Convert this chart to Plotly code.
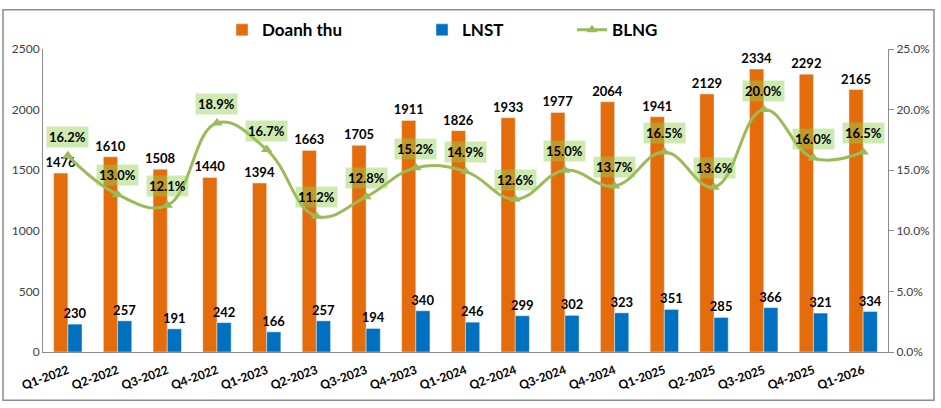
import plotly.graph_objects as go

categories = ["Q1-2022", "Q2-2022", "Q3-2022", "Q4-2022", "Q1-2023", "Q2-2023", "Q3-2023",
              "Q4-2023", "Q1-2024", "Q2-2024", "Q3-2024", "Q4-2024", "Q1-2025", "Q2-2025",
              "Q3-2025", "Q4-2025", "Q1-2026"]
doanh_thu = [1476, 1610, 1508, 1440, 1394, 1663, 1705, 1911, 1826, 1933, 1977, 2064, 1941, 2129, 2334, 2292, 2165]
lnst = [230, 257, 191, 242, 166, 257, 194, 340, 246, 299, 302, 323, 351, 285, 366, 321, 334]
blng = [0.162, 0.130, 0.121, 0.189, 0.167, 0.112, 0.128, 0.152, 0.149, 0.126, 0.150, 0.137, 0.165, 0.136, 0.200, 0.160, 0.165]

ORANGE = "#E46C0A"
BLUE = "#0070C0"
GREEN = "#9BBB59"
FONT = "Lato"

W, H = 941, 408
ML, MR, MT, MB = 43, 53, 44, 56
PW, PH = W - ML - MR, H - MT - MB


def px_x(p):
    return (p - ML) / PW


def px_y(p):
    return (H - MB - p) / PH


fig = go.Figure()
fig.add_trace(go.Bar(
    x=categories, y=doanh_thu, name="Doanh thu", marker_color=ORANGE,
    text=[str(v) for v in doanh_thu], textposition="outside", constraintext="none",
    textfont=dict(family=FONT, size=13, color="black", weight="bold"),
    cliponaxis=False, legend="legend", showlegend=True))
fig.add_trace(go.Bar(
    x=categories, y=lnst, name="LNST", marker_color=BLUE,
    text=[str(v) for v in lnst], textposition="outside", constraintext="none",
    textfont=dict(family=FONT, size=13, color="black", weight="bold"),
    cliponaxis=False, legend="legend2", showlegend=True))
fig.add_trace(go.Scatter(
    x=categories, y=blng, name="BLNG", yaxis="y2", mode="lines+markers",
    line=dict(color=GREEN, width=3, shape="spline", smoothing=1.2),
    marker=dict(symbol="triangle-up", size=10, color=GREEN),
    legend="legend3", showlegend=True))

for c, v in zip(categories, blng):
    fig.add_annotation(
        x=c, y=v, xref="x", yref="y2", yshift=19, showarrow=False,
        text=f"{v*100:.1f}%", bgcolor="rgba(146,208,80,0.45)", borderpad=2,
        font=dict(family=FONT, size=13, color="black", weight="bold"))

# outer chart border
fig.add_shape(type="rect", xref="paper", yref="paper",
              x0=px_x(3), x1=px_x(934), y0=px_y(401), y1=px_y(4),
              line=dict(color="#8C8C8C", width=1.5), layer="below")

legend_font = dict(family=FONT, size=17, color="black", weight="bold")
fig.update_layout(
    width=W, height=H, margin=dict(l=ML, r=MR, t=MT, b=MB),
    paper_bgcolor="white", plot_bgcolor="white", showlegend=True,
    barmode="group", bargap=0.43, bargroupgap=0,
    font=dict(family=FONT, size=12, color="#404040"),
    legend=dict(orientation="h", x=px_x(222), y=px_y(25), xanchor="left", yanchor="middle",
                font=legend_font, bgcolor="rgba(0,0,0,0)", visible=True),
    legend2=dict(orientation="h", x=px_x(422), y=px_y(25), xanchor="left", yanchor="middle",
                 font=legend_font, bgcolor="rgba(0,0,0,0)", visible=True),
    legend3=dict(orientation="h", x=px_x(572), y=px_y(25), xanchor="left", yanchor="middle",
                 font=legend_font, bgcolor="rgba(0,0,0,0)", visible=True),
    xaxis=dict(range=[-0.5, len(categories) - 0.5], autorange=False,
               showline=True, linecolor="#8C8C8C", linewidth=1, showgrid=False, ticks="",
               tickangle=-20, ticklabelstandoff=6,
               tickfont=dict(family=FONT, size=12, color="black", weight="bold")),
    yaxis=dict(range=[0, 2500], dtick=500, showline=True, linecolor="#8C8C8C", linewidth=1,
               showgrid=False, zeroline=False, ticks="", tickfont=dict(family=FONT, size=12, color="#404040")),
    yaxis2=dict(range=[0, 0.25], dtick=0.05, tickformat=".1%", overlaying="y", side="right",
                showline=True, linecolor="#8C8C8C", linewidth=1, showgrid=False, zeroline=False,
                ticks="outside", ticklen=5, tickcolor="#8C8C8C",
                tickfont=dict(family=FONT, size=12, color="#404040")),
)

fig.write_html("out.html")
